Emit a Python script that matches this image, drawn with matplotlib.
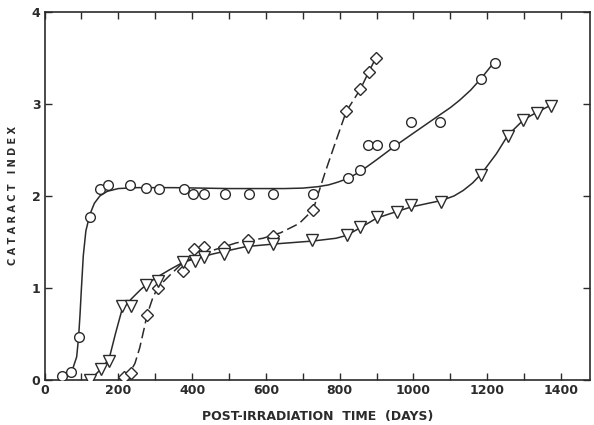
import numpy as np
import matplotlib.pyplot as plt

# measured points (days, cataract index)
circle_days = [46, 73, 94, 123, 150, 171, 231, 276, 309, 378, 403, 432, 490, 554, 620,
               728, 823, 854, 877, 901, 947, 994, 1071, 1184, 1220]
circle_idx = [0.04, 0.09, 0.47, 1.77, 2.08, 2.12, 2.12, 2.09, 2.08, 2.08, 2.02, 2.02, 2.02,
              2.02, 2.02, 2.02, 2.2, 2.28, 2.55, 2.55, 2.55, 2.8, 2.8, 3.27, 3.45]

diamond_days = [216, 233, 278, 308, 376, 404, 431, 487, 551, 620, 728, 818, 856, 879, 898]
diamond_idx = [0.03, 0.08, 0.71, 1.0, 1.18, 1.42, 1.45, 1.45, 1.52, 1.56, 1.85, 2.92, 3.16,
               3.35, 3.5]

tri_days = [124, 153, 175, 211, 235, 274, 307, 376, 407, 433, 487, 552, 620, 725, 819, 854,
            901, 954, 994, 1074, 1184, 1255, 1298, 1335, 1373]
tri_idx = [0.0, 0.12, 0.21, 0.8, 0.8, 1.03, 1.08, 1.28, 1.29, 1.34, 1.37, 1.44, 1.48, 1.52,
           1.57, 1.66, 1.77, 1.82, 1.9, 1.93, 2.23, 2.65, 2.83, 2.9, 2.98]

# hand-drawn fit curves
circle_fit_x = [46, 73, 87, 92, 96, 100, 105, 112, 123, 135, 150, 170, 200, 250, 350, 500,
                650, 700, 740, 770, 795, 822, 854, 899, 949, 999, 1071, 1100, 1125, 1155,
                1184, 1220]
circle_fit_y = [0.02, 0.08, 0.25, 0.45, 0.7, 1.0, 1.35, 1.62, 1.8, 1.92, 2.0, 2.05, 2.08,
                2.09, 2.09, 2.08, 2.08, 2.085, 2.1, 2.12, 2.15, 2.19, 2.26, 2.39, 2.54, 2.68,
                2.88, 2.96, 3.04, 3.15, 3.28, 3.46]

diamond_fit_x = [216, 231, 245, 258, 270, 278, 294, 308, 340, 371, 407, 457, 520, 592, 640,
                 690, 728, 760, 790, 818, 856, 879, 898]
diamond_fit_y = [0.0, 0.08, 0.18, 0.35, 0.56, 0.71, 0.9, 1.01, 1.14, 1.26, 1.34, 1.41, 1.49,
                 1.54, 1.6, 1.7, 1.85, 2.25, 2.6, 2.92, 3.16, 3.35, 3.5]

tri_fit_x = [124, 153, 175, 192, 211, 235, 260, 280, 306, 340, 376, 420, 457, 547, 630, 728,
             790, 818, 854, 901, 954, 994, 1040, 1076, 1110, 1135, 1160, 1184, 1225, 1256,
             1299, 1335, 1374]
tri_fit_y = [0.0, 0.12, 0.23, 0.5, 0.78, 0.88, 0.98, 1.05, 1.12, 1.2, 1.28, 1.33, 1.37, 1.45,
             1.48, 1.51, 1.54, 1.57, 1.65, 1.76, 1.83, 1.88, 1.92, 1.95, 2.0, 2.06, 2.14,
             2.24, 2.46, 2.66, 2.83, 2.91, 2.99]

ink = '#2b2b2b'
plt.rcParams['font.family'] = ['DejaVu Sans']

fig = plt.figure(figsize=(5.94, 4.25), dpi=100)
ax = fig.add_axes([0.075, 0.106, 0.918, 0.866])

line_kw = dict(color=ink, lw=1.1, solid_joinstyle='round', solid_capstyle='round', zorder=2)
ax.plot(circle_fit_x, circle_fit_y, **line_kw)
ax.plot(tri_fit_x, tri_fit_y, **line_kw)
ax.plot(diamond_fit_x, diamond_fit_y, color=ink, lw=1.1, ls=(0, (7, 3)), zorder=2)

mk_kw = dict(ls='none', mfc='white', mec=ink, mew=1.0, zorder=3)
ax.plot(circle_days, circle_idx, marker='o', ms=7, **mk_kw)
ax.plot(diamond_days, diamond_idx, marker='D', ms=6, **mk_kw)
ax.plot(tri_days, tri_idx, marker='v', ms=8, **mk_kw)

ax.set_xlim(0, 1478)
ax.set_ylim(0, 4)
ax.set_xticks(range(0, 1401, 200))
ax.set_xticks(range(0, 1401, 100), minor=True)
ax.set_yticks([0, 1, 2, 3, 4])
ax.tick_params(which='both', direction='in', top=True, right=True, color=ink,
               labelcolor=ink, labelsize=9, width=1.0, pad=3, length=5)
for lab in ax.get_xticklabels() + ax.get_yticklabels():
    lab.set_fontweight('bold')
for s in ax.spines.values():
    s.set_color(ink)
    s.set_linewidth(1.2)

ax.set_xlabel('POST-IRRADIATION  TIME  (DAYS)', fontsize=9, color=ink,
              fontweight='semibold', labelpad=9)
ax.set_ylabel('C A T A R A C T   I N D E X', fontsize=7, color=ink, fontweight='bold',
              labelpad=10)

plt.savefig('out.png', dpi=100)
